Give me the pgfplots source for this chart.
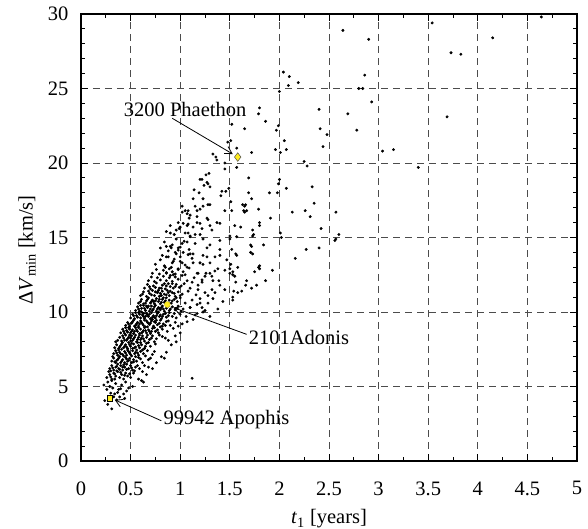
\documentclass[border=0pt]{standalone}
\usepackage{fontspec}
\setmainfont{Liberation Serif}
\usepackage{pgfplots}
\usepackage{pgfplotstable}
\pgfplotsset{compat=1.18}
\usetikzlibrary{arrows.meta}
\definecolor{hiyel}{RGB}{255,236,30}
\pgfplotstableread{
x y
2.64 28.9
2.90 28.3
3.54 29.4
4.64 29.8
4.15 28.4
3.73 27.4
3.83 27.3
2.04 26.1
2.10 25.8
2.19 25.4
2.09 25.2
2.00 24.8
2.86 25.9
2.80 25.0
2.84 25.0
2.93 24.1
1.80 23.7
1.79 23.3
1.86 22.8
2.40 23.6
2.69 23.3
3.69 23.1
1.65 22.3
1.99 22.5
1.97 22.2
2.41 22.3
2.48 21.9
2.78 22.2
2.05 21.5
1.72 20.7
1.96 20.9
2.01 20.7
2.07 20.9
2.44 21.1
3.04 20.8
3.15 20.9
2.25 20.1
2.28 19.8
3.40 19.7
1.69 19.0
2.00 18.9
1.99 18.6
2.07 18.3
2.33 18.4
1.69 18.0
1.90 18.0
1.98 18.0
1.72 17.6
2.35 17.3
1.63 17.2
1.66 17.2
1.64 16.8
1.79 16.9
2.13 16.7
2.26 16.8
2.57 16.7
1.91 16.3
2.31 16.4
1.80 16.0
1.80 15.8
1.61 15.7
1.73 15.5
2.42 15.6
2.01 15.3
1.73 15.1
2.60 15.2
2.57 14.9
2.56 14.8
1.56 13.9
1.71 14.5
1.84 14.5
1.71 14.0
1.73 13.9
2.27 14.2
2.40 14.3
2.16 13.6
1.58 13.0
1.80 13.1
1.80 12.9
1.75 12.7
1.93 12.8
1.53 12.7
1.55 12.4
1.56 12.0
1.67 12.1
1.86 12.1
1.66 11.8
1.72 11.6
1.77 11.8
1.62 11.4
1.58 11.3
1.54 11.4
1.53 11.0
1.53 10.8
1.52 22.6
1.48 21.4
1.51 21.5
1.57 21.0
1.33 20.6
1.36 20.4
1.37 20.2
1.45 20.0
1.45 19.6
1.57 19.7
1.29 19.3
1.26 19.2
1.22 18.9
1.27 18.7
1.20 18.9
1.24 18.5
1.28 18.6
1.14 18.2
1.19 18.0
1.30 18.4
1.42 18.1
1.46 18.1
1.49 18.3
1.51 17.4
1.41 17.8
1.13 17.6
1.23 17.6
1.28 17.2
1.17 16.8
1.20 16.9
1.02 17.1
1.02 16.7
1.05 16.8
1.08 16.8
1.10 16.5
1.09 16.3
1.17 16.4
1.27 16.3
1.45 16.8
1.52 16.8
1.65 17.1
1.67 16.8
0.98 16.0
1.00 15.7
1.07 15.8
1.17 16.0
1.22 15.6
1.28 16.2
1.37 16.0
1.32 15.5
1.55 15.8
1.74 15.2
2.02 15.0
0.96 15.5
0.90 15.3
1.05 15.3
1.10 15.1
1.15 15.2
1.20 15.2
1.23 14.9
1.40 14.8
1.50 14.9
1.30 14.5
1.27 14.3
1.40 14.2
1.40 13.8
1.23 13.8
1.72 14.4
0.86 14.4
0.91 14.3
0.95 14.0
0.98 14.3
1.03 14.0
1.10 13.9
1.00 13.7
0.86 13.7
0.93 13.4
1.02 13.3
0.85 13.0
0.91 13.0
0.98 12.9
1.07 13.0
1.13 13.3
1.23 13.2
1.30 13.3
1.50 12.9
1.50 12.6
1.79 13.0
0.86 12.6
0.93 12.5
1.05 12.5
1.18 12.6
1.25 12.4
1.32 12.4
1.51 13.2
1.53 12.5
1.43 10.7
1.38 10.2
1.33 10.9
1.32 11.5
1.28 11.1
1.39 12.1
1.33 12.1
1.26 12.6
1.20 13.3
1.30 12.6
1.50 15.1
1.23 10.0
1.17 9.9
1.45 12.8
1.57 13.8
1.10 10.3
1.17 10.5
1.22 10.3
1.25 10.1
1.12 5.55
1.07 16.6
1.15 17.1
1.23 17.1
1.30 17.2
1.08 15.9
1.20 15.95
1.30 15.8
1.40 15.95
1.02 14.6
1.07 14.7
1.10 15.05
0.90 14.4
1.13 13.9
1.52 14.2
1.57 15.05
1.65 16.7
1.15 9.8
1.20 10.9
1.28 10.6
1.35 11.3
1.40 11.8
1.30 9.7
1.45 11.5
1.18 11.5
1.22 12.0
1.12 12.0
1.47 13.5
1.35 13.7
1.38 12.9
1.27 13.7
0.31 3.5
0.24 4.05
0.27 3.8
0.34 4.5
0.39 4.3
0.43 4.5
0.44 4.2
0.36 4.1
0.37 4.6
0.33 4.3
0.40 4.85
0.46 4.7
0.30 4.55
0.23 5.1
0.29 5.0
0.26 4.8
0.32 4.9
0.35 5.2
0.38 4.8
0.41 5.1
0.27 5.3
0.31 5.4
0.45 5.3
0.61 5.4
0.63 5.3
0.52 5.0
0.48 4.9
0.26 5.6
0.29 5.8
0.31 5.5
0.33 5.9
0.35 5.7
0.37 6.0
0.39 5.6
0.41 5.8
0.43 5.5
0.45 5.9
0.47 5.7
0.50 5.6
0.53 5.9
0.58 5.5
0.28 6.0
0.34 5.5
0.30 5.65
0.32 6.25
0.34 5.85
0.36 6.35
0.40 5.95
0.42 6.3
0.44 5.75
0.46 6.15
0.49 5.85
0.51 6.25
0.54 6.05
0.57 6.4
0.62 6.0
0.68 6.3
0.30 6.05
0.39 6.15
0.66 5.8
0.72 6.2
0.29 6.2
0.31 6.4
0.33 6.1
0.35 6.3
0.37 6.5
0.38 6.2
0.40 6.4
0.42 6.1
0.44 6.3
0.46 6.5
0.48 6.2
0.50 6.4
0.52 6.1
0.55 6.3
0.59 6.2
0.64 6.4
0.76 6.6
0.36 6.05
0.43 6.45
0.31 6.7
0.33 6.9
0.35 6.6
0.37 6.8
0.39 7.0
0.40 6.6
0.42 6.8
0.44 6.6
0.45 6.95
0.47 6.7
0.49 6.9
0.51 6.6
0.53 6.8
0.56 6.7
0.58 6.95
0.62 6.6
0.68 6.8
0.81 7.0
0.84 6.9
0.36 6.75
0.46 6.85
0.32 7.0
0.34 6.65
0.38 6.9
0.41 6.7
0.43 7.05
0.48 6.75
0.50 7.15
0.53 6.65
0.55 7.0
0.57 7.25
0.60 6.85
0.65 7.05
0.70 6.9
0.36 7.25
0.40 7.2
0.48 7.35
0.62 7.45
0.74 7.35
0.86 7.3
0.33 7.2
0.35 7.4
0.37 7.1
0.39 7.3
0.41 7.5
0.42 7.15
0.44 7.35
0.46 7.1
0.47 7.45
0.49 7.25
0.51 7.05
0.52 7.4
0.54 7.2
0.56 7.45
0.58 7.1
0.60 7.35
0.63 7.2
0.67 7.4
0.72 7.15
0.38 7.45
0.45 7.25
0.55 7.3
0.34 7.6
0.36 7.8
0.38 7.55
0.40 7.75
0.42 7.95
0.43 7.6
0.45 7.8
0.47 7.55
0.48 7.95
0.50 7.7
0.52 7.55
0.53 7.85
0.55 7.65
0.57 7.95
0.59 7.6
0.61 7.8
0.64 7.55
0.66 7.9
0.70 7.7
0.75 7.85
0.91 7.8
0.96 8.0
0.44 7.7
0.51 7.9
0.58 7.75
0.35 8.0
0.39 7.65
0.41 7.85
0.44 8.1
0.46 7.65
0.49 7.8
0.52 8.1
0.54 7.6
0.57 8.15
0.60 7.95
0.63 8.2
0.65 7.7
0.68 7.95
0.71 8.25
0.74 8.0
0.79 8.45
0.85 8.25
0.42 8.4
0.50 8.25
0.59 8.45
0.67 8.45
0.95 8.4
0.37 8.1
0.39 8.3
0.41 8.05
0.43 8.25
0.45 8.45
0.46 8.1
0.48 8.3
0.50 8.05
0.51 8.4
0.53 8.2
0.55 8.45
0.56 8.0
0.58 8.3
0.60 8.15
0.62 8.4
0.64 8.05
0.66 8.3
0.69 8.15
0.72 8.4
0.76 8.2
0.82 8.35
0.88 8.1
0.47 8.2
0.54 8.3
0.61 8.25
0.49 8.45
0.40 8.6
0.42 8.85
0.44 8.55
0.46 8.75
0.48 8.95
0.50 8.6
0.52 8.8
0.53 8.55
0.55 8.95
0.57 8.7
0.59 8.55
0.60 8.85
0.62 8.65
0.64 8.95
0.66 8.6
0.68 8.8
0.70 8.55
0.72 8.9
0.75 8.7
0.78 8.6
0.82 8.85
0.87 8.7
0.93 8.9
1.00 8.6
0.56 8.8
0.63 8.75
0.69 8.7
0.51 8.7
0.43 8.7
0.45 8.95
0.47 8.65
0.49 8.85
0.54 8.7
0.58 8.95
0.61 8.6
0.65 8.75
0.67 9.0
0.71 8.7
0.74 8.95
0.77 8.8
0.80 9.0
0.85 9.1
0.48 9.2
0.52 9.35
0.54 9.05
0.59 9.2
0.63 9.1
0.66 9.4
0.70 9.25
0.72 9.5
0.76 9.45
0.79 9.25
0.82 9.05
0.88 9.4
0.98 9.05
1.07 9.35
0.45 9.1
0.47 9.3
0.49 9.05
0.51 9.25
0.53 9.45
0.55 9.1
0.57 9.3
0.58 9.05
0.60 9.4
0.62 9.2
0.64 9.45
0.65 9.0
0.67 9.3
0.69 9.15
0.71 9.4
0.73 9.05
0.75 9.3
0.77 9.15
0.80 9.45
0.83 9.2
0.86 9.35
0.90 9.1
0.95 9.3
1.02 9.2
1.13 9.5
0.61 9.3
0.68 9.25
0.74 9.35
0.56 9.2
0.50 9.6
0.52 9.85
0.54 9.55
0.56 9.75
0.58 9.95
0.60 9.6
0.62 9.8
0.64 9.55
0.66 9.9
0.68 9.7
0.70 9.55
0.71 9.95
0.73 9.75
0.75 9.6
0.77 9.9
0.79 9.7
0.81 9.55
0.83 9.85
0.86 9.65
0.89 9.95
0.92 9.7
0.96 9.6
1.00 9.85
1.06 9.7
0.67 9.8
0.74 9.65
0.80 9.8
0.63 9.7
0.53 9.75
0.55 9.95
0.57 9.65
0.59 9.85
0.61 10.0
0.63 9.9
0.65 9.7
0.69 9.85
0.72 9.65
0.76 9.75
0.78 10.0
0.82 9.7
0.85 9.9
0.88 9.75
0.94 9.9
0.58 10.2
0.60 10.45
0.64 10.25
0.68 10.4
0.72 10.1
0.74 10.35
0.77 10.2
0.81 10.3
0.83 10.2
0.88 10.4
0.90 10.2
0.97 10.25
1.01 10.05
0.55 10.1
0.57 10.35
0.59 10.05
0.61 10.25
0.63 10.45
0.65 10.1
0.67 10.3
0.69 10.05
0.71 10.4
0.73 10.2
0.75 10.45
0.76 10.05
0.78 10.3
0.80 10.15
0.82 10.4
0.84 10.05
0.86 10.25
0.89 10.1
0.92 10.35
0.95 10.15
0.98 10.4
1.03 10.2
1.10 10.3
0.70 10.2
0.79 10.25
0.66 10.4
0.58 10.6
0.61 10.85
0.63 10.55
0.66 10.75
0.68 10.95
0.70 10.6
0.72 10.8
0.74 10.55
0.76 10.9
0.78 10.7
0.80 10.55
0.82 10.85
0.84 10.65
0.86 10.95
0.89 10.8
0.91 10.6
0.94 10.85
0.97 10.7
1.00 10.95
1.05 10.6
1.12 10.8
1.20 10.6
0.73 10.7
0.85 10.75
0.60 10.7
0.65 10.6
0.67 10.85
0.71 10.7
0.75 10.75
0.79 10.85
0.81 10.65
0.83 10.95
0.88 10.6
0.92 10.75
0.96 10.95
0.60 11.1
0.63 11.35
0.66 11.05
0.69 11.25
0.72 11.45
0.74 11.1
0.77 11.3
0.79 11.05
0.82 11.4
0.84 11.2
0.87 11.45
0.89 11.1
0.92 11.3
0.95 11.05
0.98 11.35
1.02 11.2
1.08 11.4
1.16 11.15
1.25 11.3
0.80 11.25
0.88 11.3
0.62 11.2
0.68 11.4
0.71 11.15
0.75 11.35
0.78 11.45
0.81 11.1
0.86 11.15
0.90 11.4
0.94 11.25
1.00 11.1
0.64 11.6
0.67 11.85
0.70 11.55
0.73 11.75
0.76 11.95
0.79 11.6
0.82 11.8
0.85 11.55
0.88 11.9
0.90 11.7
0.93 11.6
0.96 11.85
0.99 11.65
1.04 11.9
1.10 11.6
1.18 11.8
0.86 11.75
0.69 11.7
0.75 11.65
0.81 11.6
0.84 11.9
0.92 11.9
0.95 11.7
1.01 11.75
0.68 12.1
0.71 12.35
0.74 12.05
0.77 12.3
0.80 12.15
0.83 12.4
0.86 12.1
0.89 12.3
0.92 12.05
0.95 12.35
0.98 12.2
1.02 12.45
1.07 12.1
1.14 12.3
1.22 12.15
0.90 12.45
0.72 12.6
0.76 12.85
0.79 12.55
0.83 12.8
0.86 12.65
0.89 12.9
0.92 12.7
0.95 12.55
0.98 12.85
1.03 12.7
1.09 12.95
1.17 12.6
1.35 12.75
0.75 13.2
0.80 13.5
0.84 13.1
0.88 13.7
0.92 13.3
0.96 13.9
1.00 13.4
1.05 13.15
1.12 13.6
1.20 13.3
0.94 13.55
0.82 13.8
1.08 13.85
0.80 14.3
0.84 14.7
0.88 14.1
0.92 14.5
0.96 14.9
1.00 14.35
1.04 14.75
1.09 14.2
1.15 14.6
0.98 14.15
0.86 15.4
0.90 15.8
0.94 15.2
0.99 15.6
1.03 15.95
1.08 15.3
1.13 15.7
}\neodata
\begin{document}
\begin{tikzpicture}
\begin{axis}[
  scale only axis, width=496pt, height=447pt,
  xmin=0, xmax=5, ymin=0, ymax=30,
  xtick={0,0.5,...,5}, ytick={0,5,...,30},
  xticklabels={0,0.5,1,1.5,2,2.5,3,3.5,4,4.5,5},
  minor x tick num=1, minor y tick num=4,
  tick align=inside,
  major tick length=7pt, minor tick length=4pt,
  axis line style={line width=1.3pt},
  every tick/.style={black, line width=0.8pt},
  grid=major,
  major grid style={black!70, line width=0.8pt, dash pattern=on 7pt off 5pt},
  font=\fontsize{20.5}{24}\selectfont,
  /pgf/number format/assume math mode=true,
  xticklabel style={yshift=-17pt},
  yticklabel style={xshift=-9pt},
  every axis x label/.style={at={(axis description cs:0.5,0)}, yshift=-58pt, anchor=center},
  every axis y label/.style={at={(axis description cs:0,0.472)}, xshift=-54pt, rotate=90, anchor=center},
  xlabel={\textit{t}\textsubscript{1} [years]},
  ylabel={Δ\textit{V}\textsubscript{min} [km/s]},
  clip=false,
]
\addplot[only marks, mark=*, mark size=1.25pt, black] table[x=x,y=y] {\neodata};
\addplot[only marks, mark=square*, mark size=2.8pt, fill=hiyel, draw=black, line width=0.5pt] coordinates {(0.29,4.2)};
\addplot[only marks, mark=*, mark size=2.9pt, fill=hiyel, draw=hiyel!85!black, line width=0.4pt] coordinates {(0.87,10.5)};
\addplot[only marks, mark=diamond*, mark size=4.3pt, fill=hiyel, draw=black!70, line width=0.5pt] coordinates {(1.58,20.4)};
\draw[line width=0.8pt, -{Straight Barb[length=7pt,width=8pt]}] (axis cs:0.81,2.7) -- (axis cs:0.34,4.1);
\node[anchor=west, inner sep=0pt] at (axis cs:0.83,2.8) {99942 Apophis};
\draw[line width=0.8pt, -{Straight Barb[length=7pt,width=8pt]}] (axis cs:1.67,8.5) -- (axis cs:0.93,10.3);
\node[anchor=west, inner sep=0pt] at (axis cs:1.69,8.3) {2101Adonis};
\draw[line width=0.8pt, -{Straight Barb[length=7pt,width=8pt]}] (axis cs:0.92,23.0) -- (axis cs:1.53,20.6);
\node[anchor=center, inner sep=0pt] at (axis cs:1.05,23.6) {3200 Phaethon};
\coordinate (bl) at (rel axis cs:0,0);
\coordinate (tr) at (rel axis cs:1,1);
\end{axis}
\pgfresetboundingbox
\path ([xshift=-81pt,yshift=-68pt]bl) rectangle ([xshift=11pt,yshift=14pt]tr);
\end{tikzpicture}
\end{document}
